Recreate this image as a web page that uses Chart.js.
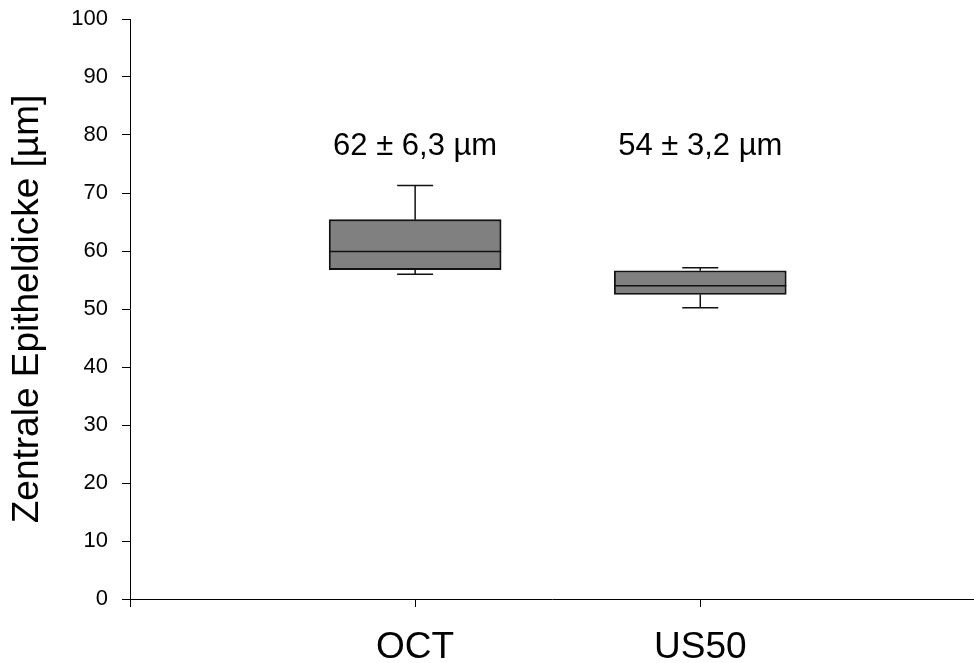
<!DOCTYPE html>
<html>
<head>
<meta charset="utf-8">
<script src="https://cdn.jsdelivr.net/npm/chart.js@4/dist/chart.umd.min.js"></script>
<style>
  html, body { margin: 0; padding: 0; background: #fff; }
  #wrap { width: 974px; height: 663px; }
</style>
</head>
<body>
<div id="wrap"><canvas id="c" width="974" height="663"></canvas></div>
<script>
// Groups and box-plot statistics (µm)
const categories = ['OCT', 'US50'];
const whiskerLow = [56.0, 50.2];
const quartile1 = [56.8, 52.5];
const median = [59.9, 54.0];
const quartile3 = [65.4, 56.6];
const whiskerHigh = [71.3, 57.1];
const meanLabels = ['62 ± 6,3 µm', '54 ± 3,2 µm'];
const yTicks = [0, 10, 20, 30, 40, 50, 60, 70, 80, 90, 100];

const FONT = '"Liberation Sans", Arial, Helvetica, sans-serif';
const LABEL_Y = 76.6;   // baseline of the mean ± SD annotations, in axis units

// Median lines, whiskers with caps and the mean ± SD annotations
const boxExtras = {
  id: 'boxExtras',
  afterDatasetsDraw(chart) {
    const { ctx, scales: { x, y } } = chart;
    const meta = chart.getDatasetMeta(0);
    ctx.save();
    ctx.strokeStyle = '#111';
    ctx.lineWidth = 1.5;
    categories.forEach((name, i) => {
      const bar = meta.data[i];
      const cx = x.getPixelForValue(i + 1);
      const half = bar.width / 2;
      const cap = 18;
      const yMed = y.getPixelForValue(median[i]);
      ctx.beginPath();
      ctx.moveTo(cx - half, yMed); ctx.lineTo(cx + half, yMed);
      // upper whisker
      ctx.moveTo(cx, y.getPixelForValue(quartile3[i]));
      ctx.lineTo(cx, y.getPixelForValue(whiskerHigh[i]));
      ctx.moveTo(cx - cap, y.getPixelForValue(whiskerHigh[i]));
      ctx.lineTo(cx + cap, y.getPixelForValue(whiskerHigh[i]));
      // lower whisker
      ctx.moveTo(cx, y.getPixelForValue(quartile1[i]));
      ctx.lineTo(cx, y.getPixelForValue(whiskerLow[i]));
      ctx.moveTo(cx - cap, y.getPixelForValue(whiskerLow[i]));
      ctx.lineTo(cx + cap, y.getPixelForValue(whiskerLow[i]));
      ctx.stroke();

      ctx.fillStyle = '#000';
      ctx.font = '31px ' + FONT;
      ctx.textAlign = 'center';
      ctx.textBaseline = 'alphabetic';
      ctx.fillText(meanLabels[i], cx, y.getPixelForValue(LABEL_Y));
    });
    ctx.restore();
  }
};

new Chart(document.getElementById('c'), {
  type: 'bar',
  data: {
    datasets: [{
      data: categories.map((c, i) => ({ x: i + 1, y: [quartile1[i], quartile3[i]] })),
      backgroundColor: '#808080',
      borderColor: '#111',
      borderWidth: 1.8,
      borderSkipped: false,
      barThickness: 172
    }]
  },
  options: {
    responsive: false,
    animation: false,
    layout: { padding: { top: 19, right: 0, bottom: 0, left: 0 } },
    plugins: { legend: { display: false }, tooltip: { enabled: false } },
    scales: {
      x: {
        type: 'linear',
        offset: false,
        min: 0,
        max: 2.96,
        afterBuildTicks(scale) {
          scale.ticks = [0, 1, 2].map(v => ({ value: v }));
        },
        afterFit(scale) {
          scale.height = 64;
          scale.paddingLeft = 0;
          scale.paddingRight = 0;
        },
        ticks: {
          callback: v => (v >= 1 ? categories[v - 1] : ''),
          color: '#000',
          font: { family: FONT, size: 37 },
          padding: 19,
          maxRotation: 0,
          autoSkip: false
        },
        grid: { offset: false, drawOnChartArea: false, drawTicks: true, tickLength: 8, color: '#000' },
        border: { color: '#000', width: 1 }
      },
      y: {
        min: 0,
        max: 100,
        afterBuildTicks(scale) {
          scale.ticks = yTicks.map(v => ({ value: v }));
        },
        afterFit(scale) {
          scale.width = 130;
          scale.paddingTop = 0;
          scale.paddingBottom = 0;
        },
        ticks: {
          color: '#000',
          font: { family: FONT, size: 22 },
          padding: 14
        },
        grid: { drawOnChartArea: false, drawTicks: true, tickLength: 8, color: '#000' },
        border: { color: '#000', width: 1 },
        title: {
          display: true,
          text: 'Zentrale Epitheldicke [µm]',
          color: '#000',
          font: { family: FONT, size: 37 },
          padding: { top: 6, bottom: 0 }
        }
      }
    }
  },
  plugins: [boxExtras]
});
</script>
</body>
</html>
